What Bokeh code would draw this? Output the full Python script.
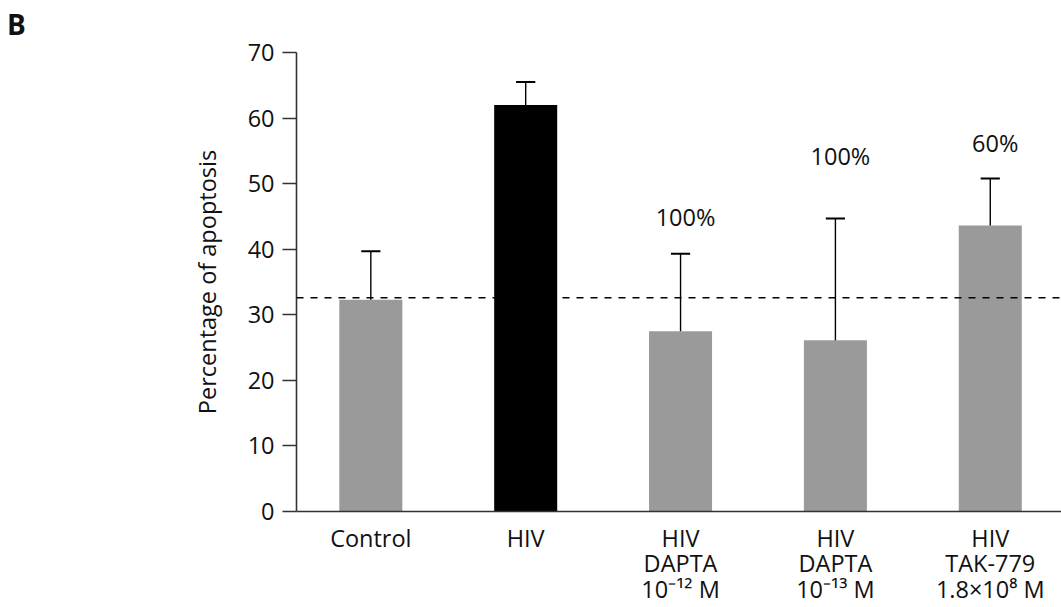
from bokeh.plotting import figure
from bokeh.models import Span, FixedTicker, ColumnDataSource, Div
from bokeh.layouts import row
from bokeh.core.properties import value
from bokeh.embed import file_html
from bokeh.resources import INLINE

# ---- data ----
categories = ["Control", "HIV", "HIV\nDAPTA\n10\u207b\u00b9\u00b2 M",
              "HIV\nDAPTA\n10\u207b\u00b9\u00b3 M", "HIV\nTAK-779\n1.8\u00d710\u2078 M"]
means = [32.3, 62.0, 27.5, 26.1, 43.6]
upper = [39.7, 65.5, 39.3, 44.7, 50.8]
bar_colors = ["#9a9a9a", "#000000", "#9a9a9a", "#9a9a9a", "#9a9a9a"]
inhib_text = ["100%", "100%", "60%"]
inhib_idx = [2, 3, 4]
inhib_y = [44.9, 54.2, 56.2]
control_level = 32.6
y_ticks = [0, 10, 20, 30, 40, 50, 60, 70]

FONT = "Open Sans"
FS = "23.5px"
xs = list(range(len(categories)))

LEFT_W = 40
p = figure(width=1061 - LEFT_W, height=607, output_backend="svg", toolbar_location=None,
           x_range=(-0.48, 4.46), y_range=(0, 70))
p.min_border_left = 296 - LEFT_W
p.min_border_right = 0
p.min_border_top = 52
p.min_border_bottom = 96
p.outline_line_color = None
p.xgrid.grid_line_color = None
p.ygrid.grid_line_color = None
p.background_fill_color = "white"
p.border_fill_color = "white"
p.margin = 0

src = ColumnDataSource(dict(x=xs, top=means, up=upper, color=bar_colors))
p.vbar(x="x", top="top", bottom=0, width=0.407, fill_color="color",
       line_color=None, source=src)

# error bars (upper only)
p.segment(x0=xs, y0=means, x1=xs, y1=upper, line_color="black", line_width=1.4)
cap_half = 0.062
p.segment(x0=[x - cap_half for x in xs], y0=upper,
          x1=[x + cap_half for x in xs], y1=upper, line_color="black", line_width=2)

# dashed control level
p.add_layout(Span(location=control_level, dimension="width", line_color="black",
                  line_width=1.6, line_dash="7 7"))

# inhibition labels
p.text(x=inhib_idx, y=inhib_y, text=inhib_text, x_offset=5,
       text_align="center", text_baseline="middle",
       text_font=value(FONT), text_font_size=FS, text_color="#111111")

# axes
xa = p.xaxis[0]
xa.ticker = FixedTicker(ticks=xs)
xa.major_label_overrides = {i: c for i, c in enumerate(categories)}
xa.major_tick_out = 0
xa.major_tick_in = 0
xa.minor_tick_line_color = None
xa.axis_line_color = "#333333"
xa.axis_line_width = 1.6
xa.major_label_text_font = FONT
xa.major_label_text_font_size = FS
xa.major_label_text_color = "#111111"
xa.major_label_standoff = 10
xa.major_label_text_line_height = 0.8

ya = p.yaxis[0]
ya.ticker = FixedTicker(ticks=y_ticks)
ya.major_tick_out = 14
ya.major_tick_in = 0
ya.minor_tick_line_color = None
ya.axis_line_color = "#333333"
ya.axis_line_width = 1.6
ya.major_tick_line_color = "#333333"
ya.major_tick_line_width = 1.6
ya.major_label_text_font = FONT
ya.major_label_text_font_size = FS
ya.major_label_text_color = "#111111"
ya.major_label_standoff = 8
ya.axis_label = "Percentage of apoptosis"
ya.axis_label_text_font = FONT
ya.axis_label_text_font_size = FS
ya.axis_label_text_font_style = "normal"
ya.axis_label_text_color = "#111111"
ya.axis_label_standoff = 22

# panel letter
letter = Div(text="B", width=LEFT_W, height=607, margin=0,
             styles={"font-family": FONT, "font-size": "28px", "font-weight": "bold",
                     "color": "#111111", "line-height": "28px",
                     "padding-left": "7px", "padding-top": "10px",
                     "box-sizing": "border-box"})

layout = row(letter, p, spacing=0, margin=0)
open("out.html", "w").write(file_html(layout, INLINE))
